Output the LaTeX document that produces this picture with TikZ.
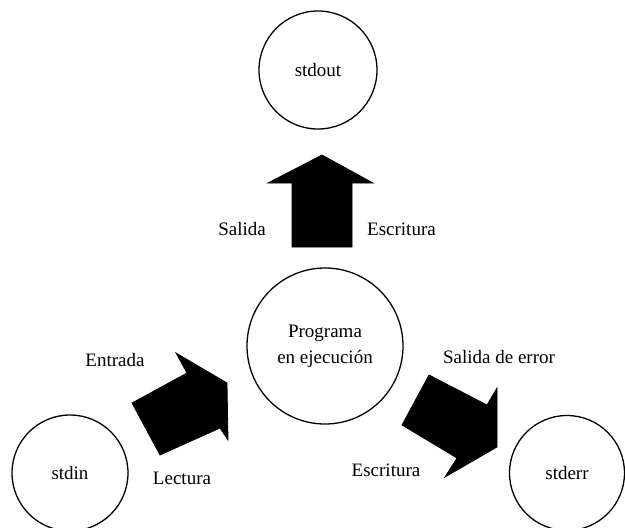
\documentclass[tikz,border=0pt]{standalone}
\usepackage{fontspec}
\setmainfont{Liberation Serif}
\begin{document}
\begin{tikzpicture}[x=1pt,y=-1pt,
  stream/.style={circle,draw,line width=1.3pt,inner sep=0pt,align=center,
    font=\fontsize{19}{26}\selectfont},
  label/.style={font=\fontsize{19}{22}\selectfont,inner sep=0pt},
  flow/.style={fill=black,draw=black,line width=0.8pt,line join=miter}]
\useasboundingbox (0,0) rectangle (625,528);

% streams and the running program
\node[stream,minimum size=118pt] (stdout) at (318,70) {stdout};
\node[stream,minimum size=156pt] (prog) at (325,346) {Programa\\en ejecución};
\node[stream,minimum size=116pt] (stdin) at (70,473) {stdin};
\node[stream,minimum size=115pt] (stderr) at (567,473) {stderr};

% output arrow: program -> stdout
\fill[flow] (292,247) -- (292,183) -- (268,183) -- (322,155) -- (373,183)
  -- (352,183) -- (352,247) -- cycle;
\node[label] (salida) at (242,229) {Salida};
\node[label,anchor=west] (escr1) at (367,229) {Escritura};

% input arrow: stdin -> program
\fill[flow] (132,403) -- (187,373) -- (176,353) -- (227,383) -- (228,440)
  -- (220,428) -- (160,455) -- cycle;
\node[label] (entrada) at (115,360) {Entrada};
\node[label] (lectura) at (182,478) {Lectura};

% error arrow: program -> stderr
\fill[flow] (429,375) -- (487,405) -- (497,388) -- (497,447) -- (445,477)
  -- (457,458) -- (402,425) -- cycle;
\node[label] (salerr) at (499,357) {Salida de error};
\node[label] (escr2) at (386,470) {Escritura};
\end{tikzpicture}
\end{document}
